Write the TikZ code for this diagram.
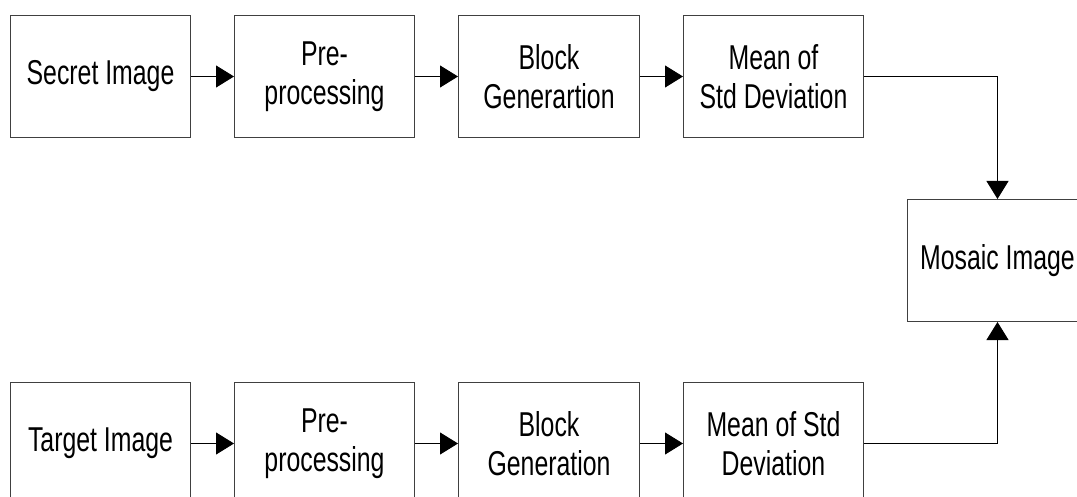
\documentclass[tikz,border=0pt]{standalone}
\usepackage{fontspec}
\setmainfont{Liberation Sans}[FakeStretch=0.72]
\usetikzlibrary{arrows.meta}
\begin{document}
\begin{tikzpicture}[x=1pt,y=-1pt,
  blk/.style={draw=black!75, line width=1pt, minimum width=180pt, minimum height=122pt,
    inner sep=0pt, align=center, anchor=north west,
    font=\fontsize{34.5}{39.5}\selectfont},
  conn/.style={draw=black, line width=1pt, -{Triangle[length=18pt,width=22pt]}}]
\useasboundingbox (0,0) rectangle (1077,497);
\clip (0,0) rectangle (1077,497);
% top row
\node[blk] (s1) at (10,15) {Secret Image};
\node[blk] (p1) at (234,15) {Pre-\\processing};
\node[blk, minimum width=181pt] (b1) at (458,15) {Block\\Generartion};
\node[blk] (m1) at (683,15) {Mean of\\Std Deviation};
% mosaic
\node[blk] (mo) at (907,199) {Mosaic Image};
% bottom row
\node[blk] (s2) at (10,382) {Target Image};
\node[blk] (p2) at (234,382) {Pre-\\processing};
\node[blk, minimum width=181pt] (b2) at (458,382) {Block\\Generation};
\node[blk] (m2) at (683,382) {Mean of Std\\Deviation};
% connectors
\draw[conn] (s1) -- (p1);
\draw[conn] (p1) -- (b1);
\draw[conn] (b1) -- (m1);
\draw[conn] (m1.east) -| (mo.north);
\draw[conn] (s2) -- (p2);
\draw[conn] (p2) -- (b2);
\draw[conn] (b2) -- (m2);
\draw[conn] (m2.east) -| (mo.south);
\end{tikzpicture}
\end{document}
